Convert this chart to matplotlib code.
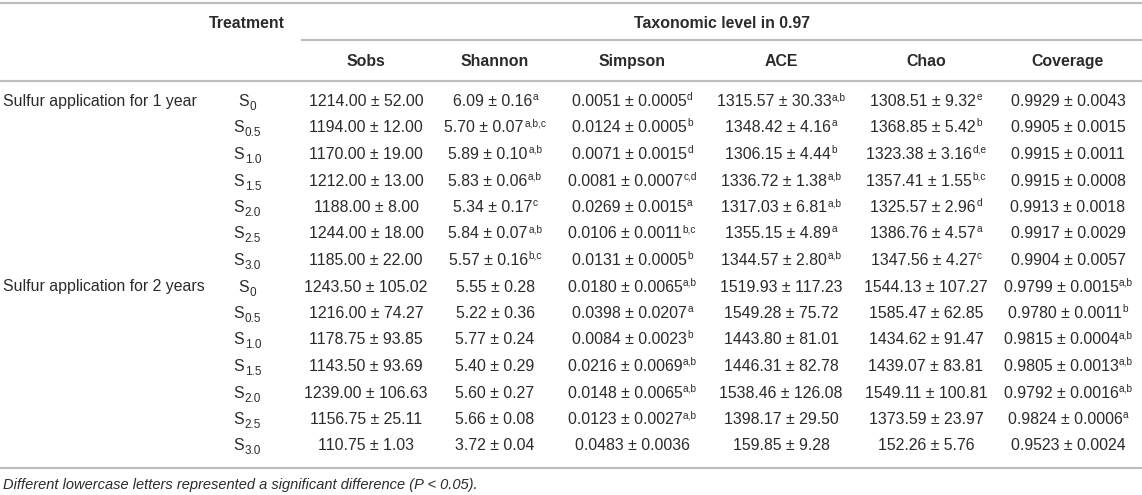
import matplotlib
matplotlib.use("Agg")
import matplotlib.pyplot as plt

plt.rcParams['font.family'] = ['Liberation Sans', 'DejaVu Sans']

# table data
groups = ['Sulfur application for 1 year', 'Sulfur application for 2 years']
doses = ['0', '0.5', '1.0', '1.5', '2.0', '2.5', '3.0'] * 2
metrics = ['Sobs', 'Shannon', 'Simpson', 'ACE', 'Chao', 'Coverage']

sobs_mean = [1214.00, 1194.00, 1170.00, 1212.00, 1188.00, 1244.00, 1185.00,
             1243.50, 1216.00, 1178.75, 1143.50, 1239.00, 1156.75, 110.75]
sobs_sd = [52.00, 12.00, 19.00, 13.00, 8.00, 18.00, 22.00,
           105.02, 74.27, 93.85, 93.69, 106.63, 25.11, 1.03]
sobs_sig = [''] * 14

shannon_mean = [6.09, 5.70, 5.89, 5.83, 5.34, 5.84, 5.57,
                5.55, 5.22, 5.77, 5.40, 5.60, 5.66, 3.72]
shannon_sd = [0.16, 0.07, 0.10, 0.06, 0.17, 0.07, 0.16,
              0.28, 0.36, 0.24, 0.29, 0.27, 0.08, 0.04]
shannon_sig = ['a', 'a,b,c', 'a,b', 'a,b', 'c', 'a,b', 'b,c',
               '', '', '', '', '', '', '']

simpson_mean = [0.0051, 0.0124, 0.0071, 0.0081, 0.0269, 0.0106, 0.0131,
                0.0180, 0.0398, 0.0084, 0.0216, 0.0148, 0.0123, 0.0483]
simpson_sd = [0.0005, 0.0005, 0.0015, 0.0007, 0.0015, 0.0011, 0.0005,
              0.0065, 0.0207, 0.0023, 0.0069, 0.0065, 0.0027, 0.0036]
simpson_sig = ['d', 'b', 'd', 'c,d', 'a', 'b,c', 'b',
               'a,b', 'a', 'b', 'a,b', 'a,b', 'a,b', '']

ace_mean = [1315.57, 1348.42, 1306.15, 1336.72, 1317.03, 1355.15, 1344.57,
            1519.93, 1549.28, 1443.80, 1446.31, 1538.46, 1398.17, 159.85]
ace_sd = [30.33, 4.16, 4.44, 1.38, 6.81, 4.89, 2.80,
          117.23, 75.72, 81.01, 82.78, 126.08, 29.50, 9.28]
ace_sig = ['a,b', 'a', 'b', 'a,b', 'a,b', 'a', 'a,b',
           '', '', '', '', '', '', '']

chao_mean = [1308.51, 1368.85, 1323.38, 1357.41, 1325.57, 1386.76, 1347.56,
             1544.13, 1585.47, 1434.62, 1439.07, 1549.11, 1373.59, 152.26]
chao_sd = [9.32, 5.42, 3.16, 1.55, 2.96, 4.57, 4.27,
           107.27, 62.85, 91.47, 83.81, 100.81, 23.97, 5.76]
chao_sig = ['e', 'b', 'd,e', 'b,c', 'd', 'a', 'c',
            '', '', '', '', '', '', '']

cov_mean = [0.9929, 0.9905, 0.9915, 0.9915, 0.9913, 0.9917, 0.9904,
            0.9799, 0.9780, 0.9815, 0.9805, 0.9792, 0.9824, 0.9523]
cov_sd = [0.0043, 0.0015, 0.0011, 0.0008, 0.0018, 0.0029, 0.0057,
          0.0015, 0.0011, 0.0004, 0.0013, 0.0016, 0.0006, 0.0024]
cov_sig = ['', '', '', '', '', '', '',
           'a,b', 'b', 'a,b', 'a,b', 'a,b', 'a', '']

columns = [(sobs_mean, sobs_sd, sobs_sig, 2),
           (shannon_mean, shannon_sd, shannon_sig, 2),
           (simpson_mean, simpson_sd, simpson_sig, 4),
           (ace_mean, ace_sd, ace_sig, 2),
           (chao_mean, chao_sd, chao_sig, 2),
           (cov_mean, cov_sd, cov_sig, 4)]

W, H = 1142, 495
fig = plt.figure(figsize=(W / 100, H / 100), dpi=100)
ax = fig.add_axes([0, 0, 1, 1])
ax.set_xlim(0, W)
ax.set_ylim(H, 0)
ax.axis('off')
renderer = fig.canvas.get_renderer()

txt = '#2b2b2b'
rule = '#bdbdbd'
fs = 11.4
col_x = [366, 495, 632, 781, 926, 1068]
treat_x = 247
row0, dy = 100, 26.5
base = 6  # offset from row centre to text baseline


def put(x, y, main, extra='', shift=0, scale=0.64, **kw):
    # main text plus a small raised/lowered part, centred as one piece
    t = ax.text(x, y + base, main, ha='left', va='baseline', fontsize=fs,
                color=txt, **kw)
    w1 = t.get_window_extent(renderer).width
    w2 = 0
    e = None
    if extra:
        e = ax.text(x, y + base + shift, extra, ha='left', va='baseline',
                    fontsize=fs * scale, color=txt)
        w2 = e.get_window_extent(renderer).width
    x0 = x - (w1 + w2) / 2
    t.set_x(x0)
    if e is not None:
        e.set_x(x0 + w1 + 0.5)


# rules
ax.plot([0, W], [3, 3], color=rule, lw=1.6)
ax.plot([302, W], [40, 40], color=rule, lw=1.6)
ax.plot([0, W], [81, 81], color=rule, lw=1.6)
ax.plot([0, W], [468, 468], color=rule, lw=1.6)

# header
put(treat_x, 22, 'Treatment', fontweight='bold')
put((302 + W) / 2, 22, 'Taxonomic level in 0.97', fontweight='bold')
for x, name in zip(col_x, metrics):
    put(x, 60, name, fontweight='bold')

# body
for g, name in enumerate(groups):
    ax.text(3, row0 + 7 * g * dy + base, name, ha='left', va='baseline',
            fontsize=fs, color=txt)

for i, d in enumerate(doses):
    y = row0 + i * dy
    put(treat_x, y, 'S', d, shift=4, scale=0.74)
    for x, (m, s, sig, nd) in zip(col_x, columns):
        put(x, y, f'{m[i]:.{nd}f} \u00b1 {s[i]:.{nd}f}', sig[i], shift=-6)

ax.text(3, 484 + 5, 'Different lowercase letters represented a significant '
        'difference (P < 0.05).', ha='left', va='baseline', fontsize=10.5,
        style='italic', color=txt)

fig.savefig('out.png', dpi=100)
